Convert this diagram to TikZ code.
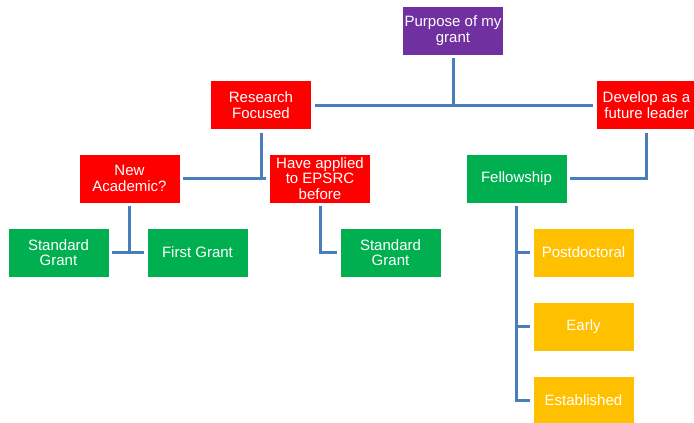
\documentclass[tikz,border=0pt]{standalone}
\usepackage{fontspec}
\setmainfont{Liberation Sans}
\definecolor{cpurple}{HTML}{7030A0}
\definecolor{cred}{HTML}{FF0000}
\definecolor{cgreen}{HTML}{00B050}
\definecolor{cyellow}{HTML}{FFC000}
\definecolor{cline}{HTML}{4A7EBB}
\tikzset{
  box/.style={minimum width=101pt, minimum height=49pt, inner sep=1pt, align=center,
    text=white, font=\fontsize{15pt}{15.5pt}\selectfont, draw=white, line width=0.6pt},
  purplebox/.style={box, fill=cpurple},
  redbox/.style={box, fill=cred},
  greenbox/.style={box, fill=cgreen},
  yellowbox/.style={box, fill=cyellow},
  conn/.style={draw=cline, line width=3pt, shorten <=3pt, shorten >=3pt}
}
\begin{document}
\begin{tikzpicture}[x=1pt,y=-1pt]
\useasboundingbox (0,0) rectangle (694,423);
\node[purplebox] (purpose) at (453,30.5) {Purpose of my\\grant};
\node[redbox] (research) at (261,105) {Research\\Focused};
\node[redbox] (develop) at (646.5,105) {Develop as a\\future leader};
\node[redbox] (newacad) at (129.5,178.5) {New\\Academic?};
\node[redbox] (have) at (320,178.5) {Have applied\\to EPSRC\\before};
\node[greenbox] (fellow) at (516.5,178.5) {Fellowship};
\node[greenbox] (std1) at (58.5,252.5) {Standard\\Grant};
\node[greenbox] (first) at (197.5,252.5) {First Grant};
\node[greenbox] (std2) at (390.5,252.5) {Standard\\Grant};
\node[yellowbox] (post) at (583.5,252.5) {Postdoctoral};
\node[yellowbox] (early) at (583.5,326.5) {Early};
\node[yellowbox] (estab) at (583.5,400.5) {Established};
\coordinate (j1) at (purpose.south |- research.east);
\coordinate (j2) at (research.south |- newacad.east);
\coordinate (j3) at (newacad.south |- std1.east);
\draw[conn] (research) -- (develop);
\draw[conn, shorten >=0pt] (purpose.south) -- (j1);
\draw[conn] (newacad) -- (have);
\draw[conn, shorten >=0pt] (research.south) -- (j2);
\draw[conn] (std1) -- (first);
\draw[conn, shorten >=0pt] (newacad.south) -- (j3);
\draw[conn] (have.south) |- (std2.west);
\draw[conn] (develop.south) |- (fellow.east);
\draw[conn] (fellow.south) |- (estab.west);
\draw[conn, shorten <=0pt] (fellow.south |- post.west) -- (post.west);
\draw[conn, shorten <=0pt] (fellow.south |- early.west) -- (early.west);
\end{tikzpicture}
\end{document}
